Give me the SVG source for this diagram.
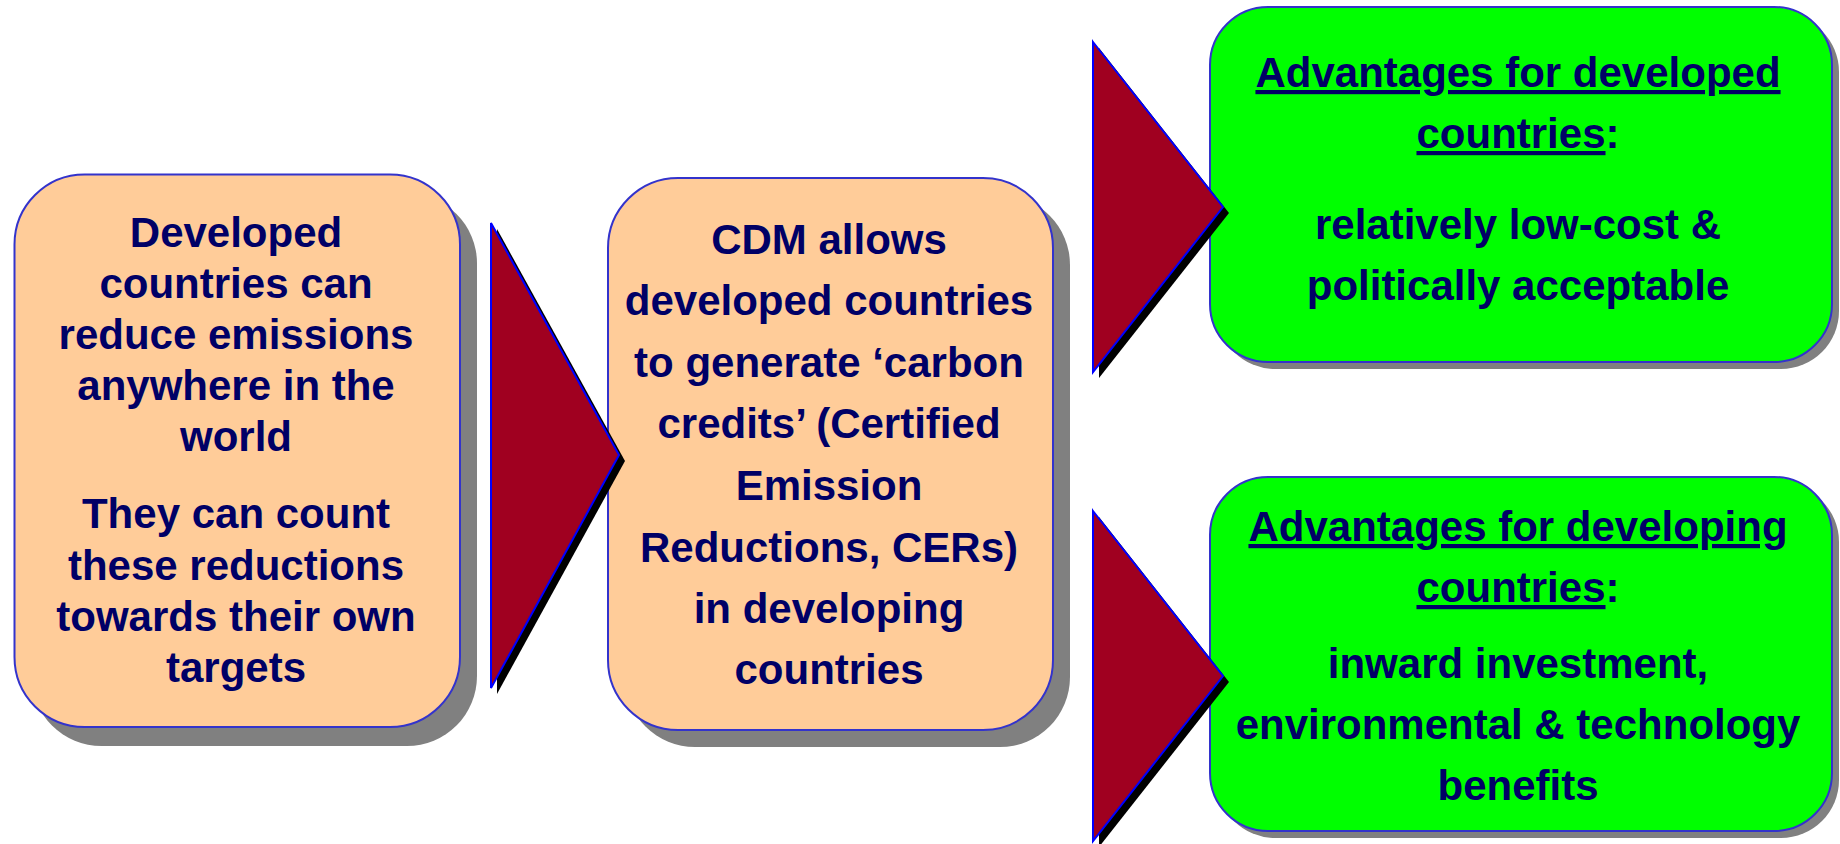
<svg xmlns="http://www.w3.org/2000/svg" width="1840" height="844" viewBox="0 0 1840 844">
<style>
.shadow{fill:#808080}
.peach{fill:#FFCC99;stroke:#3333CC;stroke-width:2}
.green{fill:#00FF00;stroke:#3333CC;stroke-width:2}
.t{font-family:"Liberation Sans",Arial,Helvetica,sans-serif;font-weight:bold;font-size:42px;fill:#000066;text-anchor:middle}
.u{text-decoration:underline}
.arr{fill:#A00020;stroke:#0000FF;stroke-width:2;stroke-linejoin:miter}
.arrsh{fill:#000000}
</style>
<rect width="1840" height="844" fill="#FFFFFF"/>
<g id="node-developed">
<rect class="shadow" x="31.5" y="193.5" width="445.5" height="552.5" rx="70"/>
<rect class="peach" x="14.5" y="174.5" width="445.5" height="552.5" rx="70"/>
<text class="t" x="236"><tspan x="236" y="247">Developed</tspan><tspan x="236" y="298">countries can</tspan><tspan x="236" y="349">reduce emissions</tspan><tspan x="236" y="400">anywhere in the</tspan><tspan x="236" y="451">world</tspan><tspan x="236" y="528">They can count</tspan><tspan x="236" y="580">these reductions</tspan><tspan x="236" y="631">towards their own</tspan><tspan x="236" y="682">targets</tspan></text>
</g>
<g id="node-cdm">
<rect class="shadow" x="625" y="195" width="445" height="552" rx="70"/>
<rect class="peach" x="608" y="178" width="445" height="552" rx="70"/>
<text class="t"><tspan x="829" y="254">CDM allows</tspan><tspan x="829" y="315">developed countries</tspan><tspan x="829" y="377">to generate ‘carbon</tspan><tspan x="829" y="438">credits’ (Certified</tspan><tspan x="829" y="500">Emission</tspan><tspan x="829" y="562">Reductions, CERs)</tspan><tspan x="829" y="623">in developing</tspan><tspan x="829" y="684">countries</tspan></text>
</g>
<g id="node-adv-developed">
<rect class="shadow" x="1217" y="14" width="622" height="355" rx="58"/>
<rect class="green" x="1210" y="7" width="622" height="355" rx="58"/>
<text class="t"><tspan x="1518" y="87" class="u">Advantages for developed</tspan></text>
<text class="t" x="1518" y="148"><tspan class="u">countries</tspan>:</text>
<text class="t"><tspan x="1518" y="239">relatively low-cost &amp;</tspan><tspan x="1518" y="300">politically acceptable</tspan></text>
</g>
<g id="node-adv-developing">
<rect class="shadow" x="1217" y="484" width="622" height="354" rx="58"/>
<rect class="green" x="1210" y="477" width="622" height="354" rx="58"/>
<text class="t"><tspan x="1518" y="541" class="u">Advantages for developing</tspan></text>
<text class="t" x="1518" y="602"><tspan class="u">countries</tspan>:</text>
<text class="t"><tspan x="1518" y="678">inward investment,</tspan><tspan x="1518" y="739">environmental &amp; technology</tspan><tspan x="1518" y="800">benefits</tspan></text>
</g>
<g id="connectors">
<polygon class="arrsh" points="497,229 625,461 497,694"/>
<polygon class="arr" points="491,223 619,455 491,688"/>
<polygon class="arrsh" points="1099,48 1229,213 1099,378"/>
<polygon class="arr" points="1093,42 1223,207 1093,372"/>
<polygon class="arrsh" points="1099,517 1229,682 1099,847"/>
<polygon class="arr" points="1093,511 1223,676 1093,841"/>
</g>
</svg>
